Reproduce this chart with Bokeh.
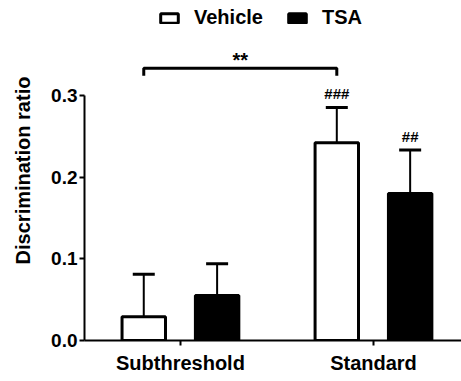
import numpy as np
from bokeh.plotting import figure
from bokeh.models import (Range1d, ColumnDataSource, Whisker, TeeHead, Legend,
                          LegendItem, FixedTicker, PrintfTickFormatter)
from bokeh.core.properties import value
from bokeh.embed import file_html
from bokeh.resources import INLINE

# ---- data ----
categories = ["Subthreshold", "Standard"]
vehicle_mean = [0.029, 0.242]
vehicle_sem = [0.052, 0.043]
tsa_mean = [0.055, 0.180]
tsa_sem = [0.039, 0.053]
vehicle_sig = ["", "###"]
tsa_sig = ["", "##"]
comparison_label = "**"
y_ticks = [0.0, 0.1, 0.2, 0.3]
series_names = ["Vehicle", "TSA"]

# ---- layout constants ----
FONT = "Liberation Sans"
OFFSET = 0.19
BAR_W = 0.225
BRACKET_Y = 0.333
BRACKET_DROP = 0.009

idx = np.arange(len(categories))
veh_x = idx - OFFSET
tsa_x = idx + OFFSET

veh_src = ColumnDataSource(dict(
    x=veh_x, top=vehicle_mean,
    upper=[m + s for m, s in zip(vehicle_mean, vehicle_sem)],
    sig=vehicle_sig))
tsa_src = ColumnDataSource(dict(
    x=tsa_x, top=tsa_mean,
    upper=[m + s for m, s in zip(tsa_mean, tsa_sem)],
    sig=tsa_sig))

p = figure(width=461, height=381,
           x_range=Range1d(-0.497, 1.456), y_range=Range1d(0, 0.416),
           output_backend="svg", toolbar_location=None,
           min_border_left=84, min_border_right=0, min_border_top=0,
           min_border_bottom=41)
p.outline_line_color = None
p.xgrid.visible = False
p.ygrid.visible = False
p.background_fill_color = "white"

rv = p.vbar(x="x", top="top", width=BAR_W, bottom=0, source=veh_src,
            fill_color="white", line_color="black", line_width=3)
rt = p.vbar(x="x", top="top", width=BAR_W, bottom=0, source=tsa_src,
            fill_color="black", line_color="black", line_width=3)

for src in (veh_src, tsa_src):
    w = Whisker(base="x", lower="top", upper="upper", source=src,
                dimension="height", line_color="black", line_width=2,
                upper_head=TeeHead(size=22, line_color="black", line_width=3),
                lower_head=None)
    p.add_layout(w)

# significance marks above error bars
for src in (veh_src, tsa_src):
    p.text(x="x", y="upper", text="sig", source=src, y_offset=-14,
           text_align="center", text_baseline="middle",
           text_font=value(FONT), text_font_style="bold",
           text_font_size="15px", text_color="black")

# bracket between vehicle groups
bx = [veh_x[0], veh_x[0], veh_x[1], veh_x[1]]
by = [BRACKET_Y - BRACKET_DROP, BRACKET_Y, BRACKET_Y, BRACKET_Y - BRACKET_DROP]
p.line(bx, by, line_color="black", line_width=3)
p.text(x=[(veh_x[0] + veh_x[1]) / 2], y=[BRACKET_Y], text=[comparison_label],
       y_offset=-8, text_align="center", text_baseline="alphabetic",
       text_font=value(FONT), text_font_style="bold", text_font_size="20px",
       text_color="black")

# axes
p.xaxis.ticker = FixedTicker(ticks=list(idx))
p.xaxis.major_label_overrides = {int(i): c for i, c in zip(idx, categories)}
p.yaxis.ticker = FixedTicker(ticks=y_ticks)
p.yaxis.formatter = PrintfTickFormatter(format="%.1f")
p.yaxis.bounds = (0, 0.3)
p.yaxis.axis_label = "Discrimination ratio"
for ax in (p.xaxis[0], p.yaxis[0]):
    ax.axis_line_width = 2
    ax.axis_line_color = "black"
    ax.major_tick_line_width = 2
    ax.major_tick_line_color = "black"
    ax.major_tick_out = 5
    ax.major_tick_in = 0
    ax.minor_tick_line_color = None
    ax.major_label_text_font = FONT
    ax.major_label_text_font_style = "bold"
    ax.major_label_text_color = "black"
    ax.major_label_text_font_size = "19px"
p.xaxis.major_label_text_font_size = "20px"
p.xaxis.major_label_standoff = 6
p.yaxis.major_label_standoff = 2
p.yaxis.axis_label_text_font = FONT
p.yaxis.axis_label_text_font_style = "bold"
p.yaxis.axis_label_text_font_size = "20px"
p.yaxis.axis_label_text_color = "black"
p.yaxis.axis_label_standoff = 14

legend = Legend(items=[LegendItem(label=series_names[0], renderers=[rv]),
                       LegendItem(label=series_names[1], renderers=[rt])],
                orientation="horizontal", location=(74, 311),
                border_line_color=None, background_fill_alpha=0,
                glyph_width=22, glyph_height=12, label_standoff=14,
                spacing=23, padding=0, margin=0,
                label_text_font=FONT, label_text_font_style="bold",
                label_text_font_size="20px", label_text_color="black")
p.add_layout(legend)

open("out.html", "w").write(file_html(p, INLINE))
